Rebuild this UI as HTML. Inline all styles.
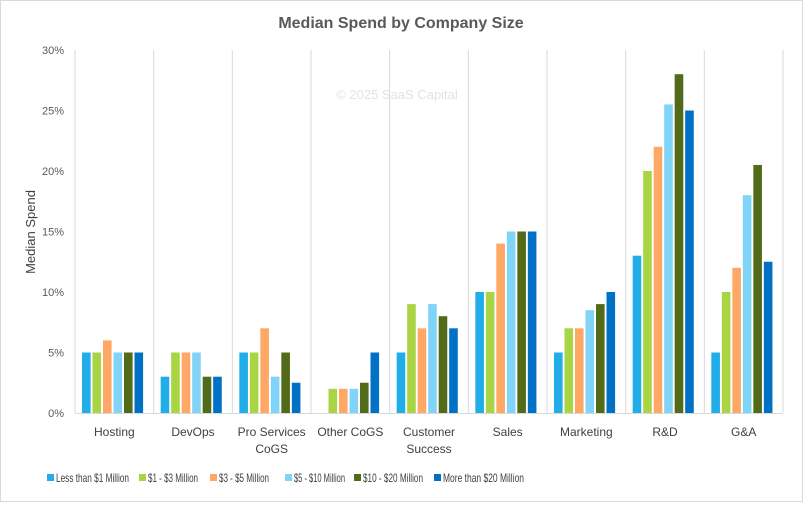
<!DOCTYPE html>
<html><head><meta charset="utf-8"><style>
body{margin:0;background:#fff}
svg text{font-family:"Liberation Sans",sans-serif}
</style></head><body>
<svg width="803" height="502" viewBox="0 0 803 502">
<rect x="0.5" y="0.5" width="802" height="501" fill="#fff" stroke="#d9d9d9"/>
<text x="401" y="28" text-anchor="middle" font-size="16" font-weight="bold" fill="#595959">Median Spend by Company Size</text>
<text x="397" y="99" text-anchor="middle" font-size="13" fill="#e3e3e3">© 2025 SaaS Capital</text>
<text transform="translate(35,232) rotate(-90)" text-anchor="middle" font-size="13" fill="#404040">Median Spend</text>
<g id="grid"></g><g id="bars"></g><g id="labels"></g><g id="legend"></g>
</svg>
<script>
const categories=[["Hosting"],["DevOps"],["Pro Services","CoGS"],["Other CoGS"],["Customer","Success"],["Sales"],["Marketing"],["R&D"],["G&A"]];
const seriesNames=["Less than $1 Million","$1 - $3 Million","$3 - $5 Million","$5 - $10 Million","$10 - $20 Million","More than $20 Million"];
const lessThan1M=[5,3,5,0,5,10,5,13,5];
const m1to3=[5,5,5,2,9,10,7,20,10];
const m3to5=[6,5,7,2,7,14,7,22,12];
const m5to10=[5,5,3,2,9,15,8.5,25.5,18];
const m10to20=[5,3,5,2.5,8,15,9,28,20.5];
const moreThan20M=[5,3,2.5,5,7,15,10,25,12.5];
const yTicks=[0,5,10,15,20,25,30];
const series=[lessThan1M,m1to3,m3to5,m5to10,m10to20,moreThan20M];
const colors=["#20ade8","#a9d444","#ffa764","#80d4f7","#526b18","#0071c5"];
const NS="http://www.w3.org/2000/svg";
const X0=75,X1=783,Y0=413,Y1=50;
const cw=(X1-X0)/categories.length;
const y=v=>Y0-(v/30)*(Y0-Y1);
function mk(t,a,p){const e=document.createElementNS(NS,t);for(const k in a)e.setAttribute(k,a[k]);p.appendChild(e);return e;}
const grid=document.getElementById('grid'),bars=document.getElementById('bars'),labels=document.getElementById('labels'),legend=document.getElementById('legend');
yTicks.forEach(t=>{
 const tx=mk('text',{x:64,y:y(t)+4,'text-anchor':'end','font-size':11,fill:'#595959'},labels);
 tx.textContent=t+'%';
 
 
});
for(let i=0;i<=categories.length;i++){
 const l=mk('line',{x1:X0+i*cw,x2:X0+i*cw,y1:Y1,y2:Y0,stroke:'#d9d9d9','stroke-width':1},grid);
 
 
}
const ax=mk('line',{x1:X0,x2:X1,y1:Y0+0.5,y2:Y0+0.5,stroke:'#d9d9d9','stroke-width':1},grid);


const step=10.5,bw=8.6,off=7;
categories.forEach((c,i)=>{
 series.forEach((s,j)=>{
  const v=s[i]; if(!v) return;
  const r=mk('rect',{x:X0+i*cw+off+j*step,y:y(v),width:bw,height:Y0-y(v),fill:colors[j]},bars);
  
  
 });
 c.forEach((line,k)=>{
  const t=mk('text',{x:X0+i*cw+cw/2,y:436+k*17,'text-anchor':'middle','font-size':12,fill:'#404040'},labels);
  t.textContent=line;
  
  
 });
});
const lx=[47,139,210,285,354,434];
const lw=[73,50,50,51,60,81];
seriesNames.forEach((n,j)=>{
 const g=mk('g',{},legend);
 
 
 mk('rect',{x:lx[j],y:474,width:7,height:7,fill:colors[j]},g);
 const t=mk('text',{x:lx[j]+9,y:482,'font-size':12,fill:'#404040',textLength:lw[j],lengthAdjust:'spacingAndGlyphs'},g);
 t.textContent=n;
});
</script>
</body></html>
